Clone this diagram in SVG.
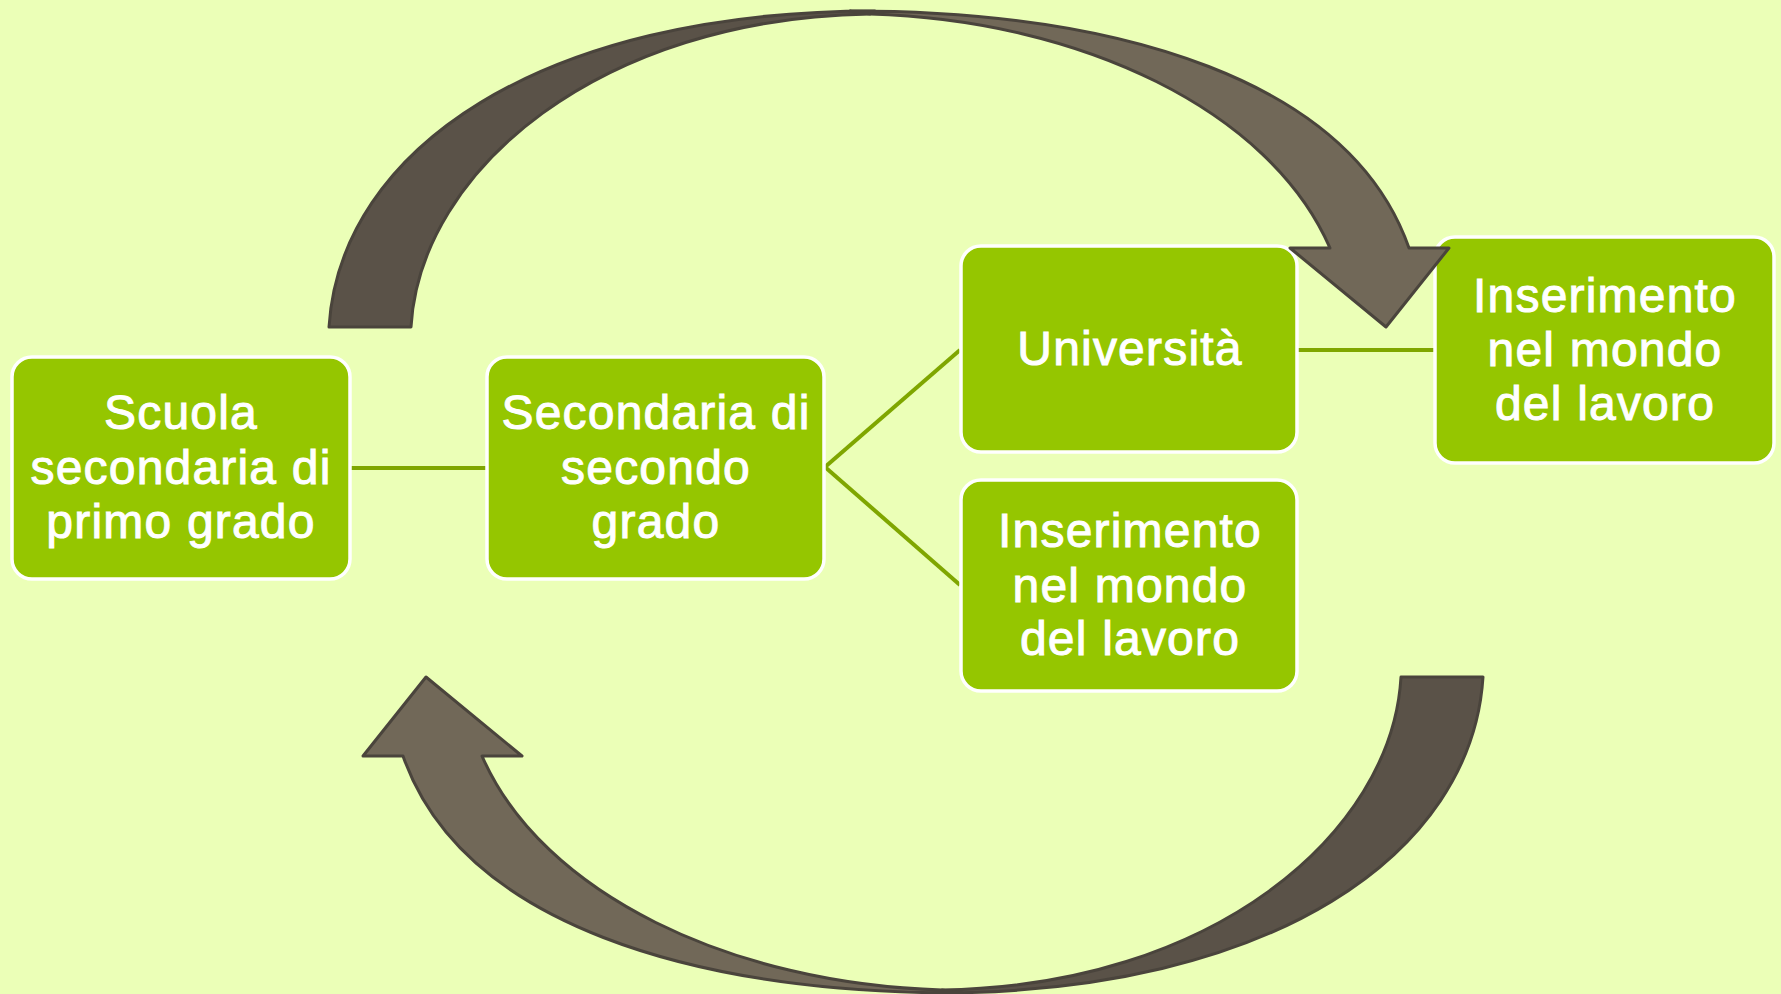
<svg xmlns="http://www.w3.org/2000/svg" xmlns:xlink="http://www.w3.org/1999/xlink" width="1781" height="994" viewBox="0 0 1781 994">
  <style>
    .box { fill: #95C600; stroke: #FFFFFF; stroke-width: 3.5; }
    .lbl { font-family: "Liberation Sans", Arial, sans-serif; font-size: 48px; fill: #FFFFFF; stroke: #FFFFFF; stroke-width: 1; text-anchor: middle; letter-spacing: 1.2px; }
    .conn { stroke: #7FA600; stroke-width: 4; fill: none; }
    .dark { fill: #5A5248; stroke: #4A443C; stroke-width: 3; stroke-linejoin: round; }
    .light { fill: #716858; stroke: #4A443C; stroke-width: 3; stroke-linejoin: round; }
  </style>
  <defs>
    <g id="curvedArrow">
      <path class="dark" d="M329,327 C340,150 540,11 875,11 L870,14 C600,18 420,170 411,327 Z"/>
      <path class="light" d="M850,11 C1120,11 1350,80 1409,248 L1449,248 L1386,327 L1290,248 L1330,248 C1270,110 1080,20 870,14 Z"/>
    </g>
  </defs>
  <rect x="0" y="0" width="1781" height="994" fill="#EBFFB7"/>

  <g id="connectors">
    <line class="conn" x1="351" y1="468" x2="486" y2="468"/>
    <line class="conn" x1="825" y1="467" x2="960" y2="350"/>
    <line class="conn" x1="825" y1="467" x2="960" y2="585"/>
    <line class="conn" x1="1298" y1="350" x2="1434" y2="350"/>
  </g>

  <g id="node-scuola-primo">
    <rect class="box" x="12" y="357" width="338" height="222" rx="20"/>
    <text class="lbl" x="181" y="429">Scuola</text>
    <text class="lbl" x="181" y="484">secondaria di</text>
    <text class="lbl" x="181" y="538">primo grado</text>
  </g>

  <g id="node-secondaria-secondo">
    <rect class="box" x="487" y="357" width="337" height="222" rx="20"/>
    <text class="lbl" x="656" y="429">Secondaria di</text>
    <text class="lbl" x="656" y="484">secondo</text>
    <text class="lbl" x="656" y="538">grado</text>
  </g>

  <g id="node-universita">
    <rect class="box" x="961" y="246" width="336" height="206" rx="20"/>
    <text class="lbl" x="1130" y="365">Università</text>
  </g>

  <g id="node-lavoro-1">
    <rect class="box" x="961" y="480" width="336" height="211" rx="20"/>
    <text class="lbl" x="1130" y="547">Inserimento</text>
    <text class="lbl" x="1130" y="602">nel mondo</text>
    <text class="lbl" x="1130" y="655">del lavoro</text>
  </g>

  <g id="node-lavoro-2">
    <rect class="box" x="1435" y="237" width="339" height="226" rx="20"/>
    <text class="lbl" x="1605" y="312">Inserimento</text>
    <text class="lbl" x="1605" y="366">nel mondo</text>
    <text class="lbl" x="1605" y="420">del lavoro</text>
  </g>

  <g id="arrow-top">
    <use xlink:href="#curvedArrow" href="#curvedArrow"/>
  </g>
  <g id="arrow-bottom">
    <use xlink:href="#curvedArrow" href="#curvedArrow" transform="rotate(180 906 502)"/>
  </g>
</svg>
